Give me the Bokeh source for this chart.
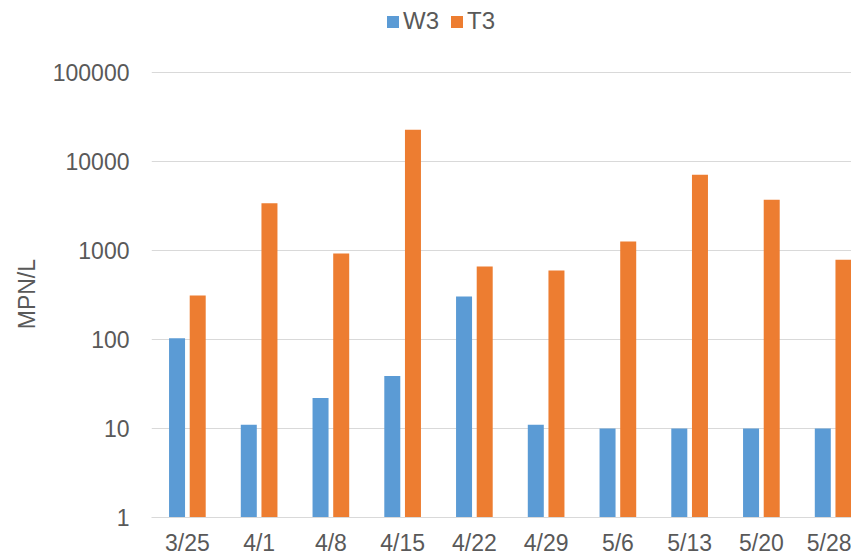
import numpy as np
from bokeh.plotting import figure
from bokeh.models import (Range1d, FixedTicker, NumeralTickFormatter, Legend, LegendItem,
                          ColumnDataSource)
from bokeh.embed import file_html
from bokeh.resources import INLINE

# ---- data ----
categories = ["3/25", "4/1", "4/8", "4/15", "4/22", "4/29", "5/6", "5/13", "5/20", "5/28"]
w3_values = [103, 11, 22, 39, 305, 11, 10, 10, 10, 10]
t3_values = [312, 3400, 925, 22700, 660, 596, 1262, 7100, 3720, 786]
y_ticks = [1, 10, 100, 1000, 10000, 100000]
series_names = ["W3", "T3"]
series_colors = ["#5b9bd5", "#ed7d31"]
y_title = "MPN/L"

FONT = "Liberation Sans"
TEXT_COLOR = "#595959"
GRID_COLOR = "#d9d9d9"

idx = np.arange(len(categories)) + 0.5
bar_w = 0.223
offset = 0.144

# frame spans the full height above the x axis; the top of the range leaves
# room for the legend above the 100000 gridline (89 px per decade, 517 px frame)
y_top = 10 ** (517 / 89)

p = figure(width=851, height=558, output_backend="svg", toolbar_location=None,
           y_axis_type="log",
           x_range=Range1d(0, 9.756), y_range=Range1d(1, y_top),
           min_border_left=151, min_border_right=0, min_border_top=0, min_border_bottom=41)
p.outline_line_color = None
p.background_fill_color = "white"
p.border_fill_color = "white"

src_w = ColumnDataSource(dict(x=idx - offset, top=w3_values, bottom=[1] * len(w3_values)))
src_t = ColumnDataSource(dict(x=idx + offset, top=t3_values, bottom=[1] * len(t3_values)))
r_w = p.vbar(x="x", top="top", bottom="bottom", width=bar_w, source=src_w,
             fill_color=series_colors[0], line_color=None)
r_t = p.vbar(x="x", top="top", bottom="bottom", width=bar_w, source=src_t,
             fill_color=series_colors[1], line_color=None)

# x axis
p.xaxis.ticker = FixedTicker(ticks=list(idx))
p.xaxis.major_label_overrides = {float(v): c for v, c in zip(idx, categories)}
p.xaxis.major_tick_line_color = None
p.xaxis.minor_tick_line_color = None
p.xaxis.axis_line_color = GRID_COLOR
p.xaxis.major_label_text_font = FONT
p.xaxis.major_label_text_font_size = "23px"
p.xaxis.major_label_text_color = TEXT_COLOR
p.xaxis.major_label_standoff = 6
p.xaxis.axis_label_standoff = 0
p.xgrid.grid_line_color = None

# y axis
p.yaxis.ticker = FixedTicker(ticks=y_ticks)
p.yaxis.formatter = NumeralTickFormatter(format="0")
p.yaxis.major_tick_line_color = None
p.yaxis.minor_tick_line_color = None
p.yaxis.axis_line_color = None
p.yaxis.major_label_text_font = FONT
p.yaxis.major_label_text_font_size = "23px"
p.yaxis.major_label_text_color = TEXT_COLOR
p.yaxis.major_label_standoff = 16
# trailing no-break spaces move the centred title down to the middle of the 1..100000 span
p.yaxis.axis_label = y_title + "\u00a0" * 11
p.yaxis.axis_label_text_font = FONT
p.yaxis.axis_label_text_font_size = "23px"
p.yaxis.axis_label_text_font_style = "normal"
p.yaxis.axis_label_text_color = TEXT_COLOR
p.yaxis.axis_label_standoff = 10
p.ygrid.grid_line_color = GRID_COLOR
p.ygrid.grid_line_width = 1

legend = Legend(items=[LegendItem(label=series_names[0], renderers=[r_w]),
                       LegendItem(label=series_names[1], renderers=[r_t])],
                orientation="horizontal", location=(234, 482),
                label_text_font=FONT, label_text_font_size="24px",
                label_text_color=TEXT_COLOR,
                glyph_width=15, glyph_height=15, label_standoff=3, spacing=10,
                padding=0, margin=0, border_line_color=None,
                background_fill_alpha=0)
p.add_layout(legend, "center")

open("out.html", "w").write(file_html(p, INLINE))
